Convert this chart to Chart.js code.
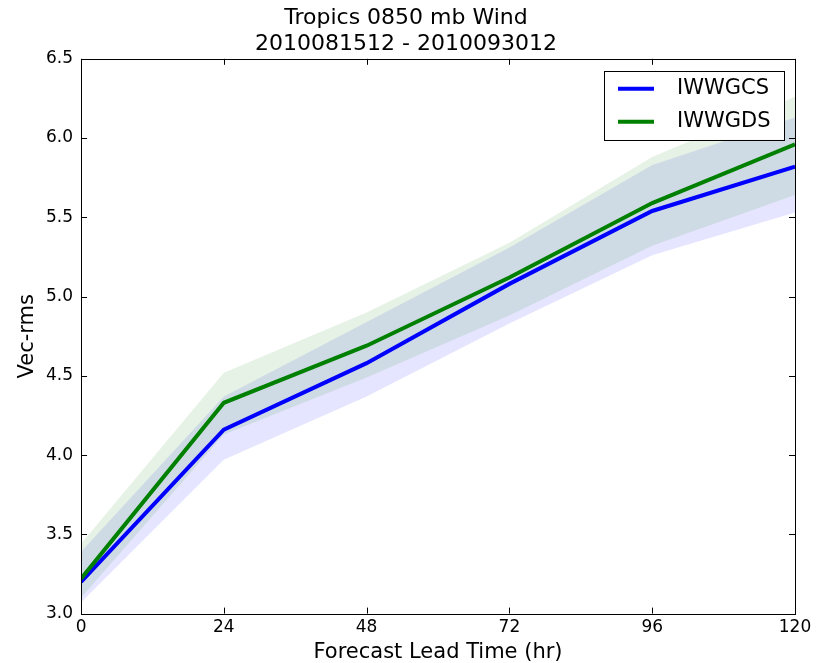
<!DOCTYPE html>
<html>
<head>
<meta charset="utf-8">
<script src="https://cdn.jsdelivr.net/npm/chart.js@4"></script>
<style>
  html, body { margin: 0; padding: 0; background: #fff; }
  #wrap { width: 823px; height: 663px; }
</style>
</head>
<body>
<div id="wrap"><canvas id="graph"></canvas></div>
<script>
// forecast hours
const hours = [0, 24, 48, 72, 96, 120];

// IWWGCS
const gcsMean  = [3.20, 4.16, 4.58, 5.08, 5.54, 5.82];
const gcsUpper = [3.39, 4.37, 4.84, 5.31, 5.83, 6.13];
const gcsLower = [3.07, 3.97, 4.37, 4.83, 5.26, 5.53];

// IWWGDS
const gdsMean  = [3.22, 4.33, 4.69, 5.12, 5.59, 5.96];
const gdsUpper = [3.44, 4.52, 4.90, 5.34, 5.88, 6.26];
const gdsLower = [3.10, 4.13, 4.49, 4.88, 5.32, 5.64];

const titleLines = ['Tropics 0850 mb Wind', '2010081512 - 2010093012'];

function pts(vals) {
  return hours.map((h, i) => ({x: h, y: vals[i]}));
}

Chart.defaults.font.family = 'DejaVu Sans';
Chart.defaults.color = '#000';

// matplotlib-like frame with inward ticks
const frame = {
  id: 'frame',
  afterDatasetsDraw(chart) {
    const ctx = chart.ctx;
    const a = chart.chartArea;
    const xs = chart.scales.x, ys = chart.scales.y;
    ctx.save();
    ctx.strokeStyle = '#000';
    ctx.lineWidth = 1;
    const len = 6;
    ctx.beginPath();
    xs.ticks.forEach((t, i) => {
      const px = Math.round(xs.getPixelForTick(i)) + 0.5;
      ctx.moveTo(px, a.bottom); ctx.lineTo(px, a.bottom - len);
      ctx.moveTo(px, a.top); ctx.lineTo(px, a.top + len);
    });
    ys.ticks.forEach((t, i) => {
      const py = Math.round(ys.getPixelForTick(i)) + 0.5;
      ctx.moveTo(a.left, py); ctx.lineTo(a.left + len, py);
      ctx.moveTo(a.right, py); ctx.lineTo(a.right - len, py);
    });
    ctx.stroke();
    ctx.strokeRect(Math.round(a.left) + 0.5, Math.round(a.top) + 0.5,
                   Math.round(a.right - a.left), Math.round(a.bottom - a.top));
    ctx.restore();
  }
};

// legend box in the upper right corner
const boxLegend = {
  id: 'boxLegend',
  afterDraw(chart) {
    const ctx = chart.ctx;
    const a = chart.chartArea;
    const items = chart.data.datasets.filter(d => d.showInLegend);
    const w = 180, h = 69;
    const x0 = a.right - 11 - w, y0 = a.top + 12;
    ctx.save();
    ctx.fillStyle = '#fff';
    ctx.fillRect(x0, y0, w, h);
    ctx.strokeStyle = '#000';
    ctx.lineWidth = 1;
    ctx.strokeRect(Math.round(x0) + 0.5, Math.round(y0) + 0.5, w, h);
    ctx.font = '21px DejaVu Sans';
    ctx.textBaseline = 'middle';
    items.forEach((d, i) => {
      const y = y0 + 18 + i * 33;
      ctx.strokeStyle = d.borderColor;
      ctx.lineWidth = 4;
      ctx.beginPath();
      ctx.moveTo(x0 + 14, y); ctx.lineTo(x0 + 50, y);
      ctx.stroke();
      ctx.fillStyle = '#000';
      ctx.fillText(d.label, x0 + 73, y);
    });
    ctx.restore();
  }
};

const band = (vals, color, fill, order) => ({
  data: pts(vals),
  borderWidth: 0,
  pointRadius: 0,
  backgroundColor: color,
  fill: fill,
  tension: 0,
  order: order
});

new Chart(document.getElementById('graph'), {
  type: 'line',
  data: {
    datasets: [
      band(gcsUpper, 'rgba(0,0,255,0.1)', '+1', 4),
      band(gcsLower, 'rgba(0,0,255,0.1)', false, 4),
      band(gdsUpper, 'rgba(0,128,0,0.1)', '+1', 3),
      band(gdsLower, 'rgba(0,128,0,0.1)', false, 3),
      {
        label: 'IWWGCS', showInLegend: true,
        data: pts(gcsMean), borderColor: 'rgb(0,0,255)', borderWidth: 4,
        pointRadius: 0, fill: false, tension: 0, order: 1
      },
      {
        label: 'IWWGDS', showInLegend: true,
        data: pts(gdsMean), borderColor: 'rgb(0,128,0)', borderWidth: 4,
        pointRadius: 0, fill: false, tension: 0, order: 0
      }
    ]
  },
  options: {
    responsive: true,
    maintainAspectRatio: false,
    animation: false,
    layout: { padding: { left: 17, right: 28, top: 0, bottom: 0 } },
    plugins: {
      legend: { display: false },
      tooltip: { enabled: false },
      title: {
        display: true,
        text: titleLines,
        font: { size: 22, weight: 'normal', lineHeight: 1.2 },
        padding: { top: 5, bottom: 1 }
      }
    },
    scales: {
      x: {
        type: 'linear', min: 0, max: 120,
        grid: { display: false, drawTicks: false },
        border: { display: false },
        ticks: { stepSize: 24, font: { size: 17 }, padding: 4, maxRotation: 0 },
        title: { display: true, text: 'Forecast Lead Time (hr)', font: { size: 21, lineHeight: 1 }, padding: { top: 0, bottom: 0 } }
      },
      y: {
        min: 3, max: 6.5,
        grid: { display: false, drawTicks: false },
        border: { display: false },
        ticks: { stepSize: 0.5, font: { size: 17 }, padding: 8, callback: v => v.toFixed(1) },
        title: { display: true, text: 'Vec-rms', font: { size: 21, lineHeight: 1 }, padding: { top: 0, bottom: 0 } }
      }
    }
  },
  plugins: [frame, boxLegend]
});
</script>
</body>
</html>
